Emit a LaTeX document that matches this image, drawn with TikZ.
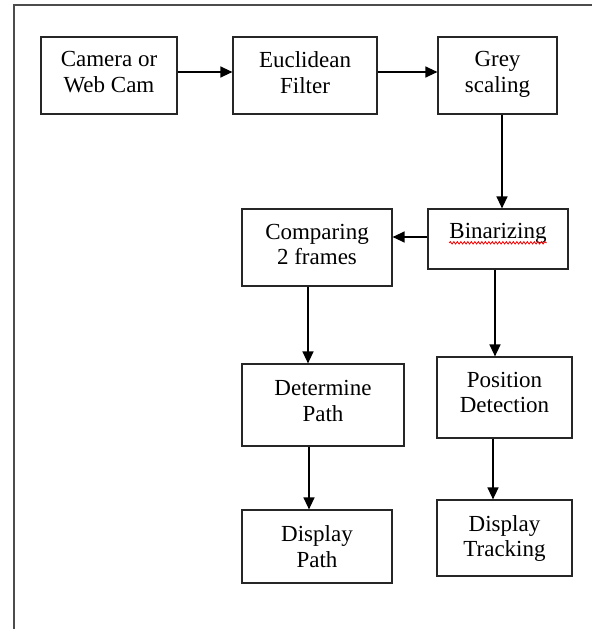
\documentclass[tikz,border=0pt]{standalone}
\usepackage{fontspec}
\setmainfont{Liberation Serif}
\usetikzlibrary{arrows.meta,calc,decorations.pathmorphing}
\begin{document}
\begin{tikzpicture}[x=1pt,y=-1pt,
  box/.style={draw=black!85, line width=1.2pt, rectangle, inner sep=0pt},
  txt/.style={align=center, inner sep=0pt, anchor=north, font=\fontsize{23}{25.5}\selectfont},
  arr/.style={line width=1.3pt, -{Triangle[length=12pt,width=11pt]}},
  frame/.style={line width=1.5pt, draw=black!70}
]
\useasboundingbox (0,0) rectangle (592,629);
\draw[frame] (14,629) -- (14,5) -- (592,5);

% boxes
\node[box, minimum width=136pt, minimum height=77pt] (cam) at (109,75.5) {};
\node[box, minimum width=144pt, minimum height=77pt] (euc) at (305,75.5) {};
\node[box, minimum width=119pt, minimum height=77pt] (grey) at (497.5,75.5) {};
\node[box, minimum width=140pt, minimum height=60pt] (bin) at (498,239) {};
\node[box, minimum width=150pt, minimum height=77pt] (comp) at (317,247.5) {};
\node[box, minimum width=162pt, minimum height=82pt] (det) at (323,405) {};
\node[box, minimum width=135pt, minimum height=81pt] (pos) at (504.5,397.5) {};
\node[box, minimum width=150pt, minimum height=73pt] (dpath) at (317,546.5) {};
\node[box, minimum width=135pt, minimum height=76pt] (dtrack) at (504.5,538) {};

% texts
\node[txt] (camT) at ([yshift=-15pt]cam.north) {Camera or\\Web Cam};
\node[txt] (eucT) at ([yshift=-15pt]euc.north) {Euclidean\\Filter};
\node[txt] (greyT) at ([yshift=-15pt]grey.north) {Grey\\scaling};
\node[txt] (binT) at ([yshift=-15pt]bin.north) {Binarizing};
\node[txt] (compT) at ([yshift=-15.5pt]comp.north) {Comparing\\2 frames};
\node[txt] (detT) at ([yshift=-17pt]det.north) {Determine\\Path};
\node[txt] (posT) at ([yshift=-15.5pt]pos.north) {Position\\Detection};
\node[txt] (dpathT) at ([yshift=-16pt]dpath.north) {Display\\Path};
\node[txt] (dtrackT) at ([yshift=-15.5pt]dtrack.north) {Display\\Tracking};

% spell-check underline
\draw[red, line width=0.8pt, decorate, decoration={snake, amplitude=1.2pt, segment length=3.5pt}]
  ([yshift=-4pt]binT.base west) -- ([yshift=-4pt]binT.base east);

% connectors
\draw[arr] ([yshift=3.5pt]cam.east) -- ([yshift=3.5pt]euc.west);
\draw[arr] ([yshift=3.5pt]euc.east) -- ([yshift=3.5pt]grey.west);
\draw[arr] ([xshift=4.5pt]grey.south) -- ([xshift=4.5pt]grey.south |- bin.north);
\draw[arr] ([yshift=2pt]bin.west) -- ([yshift=2pt]bin.west -| comp.east);
\draw[arr] ([xshift=-9pt]comp.south) -- ([xshift=-9pt]comp.south |- det.north);
\draw[arr] ([xshift=-14pt]det.south) -- ([xshift=-14pt]det.south |- dpath.north);
\draw[arr] ([xshift=-3pt]bin.south) -- ([xshift=-3pt]bin.south |- pos.north);
\draw[arr] ([xshift=-11.5pt]pos.south) -- ([xshift=-11.5pt]pos.south |- dtrack.north);
\end{tikzpicture}
\end{document}
